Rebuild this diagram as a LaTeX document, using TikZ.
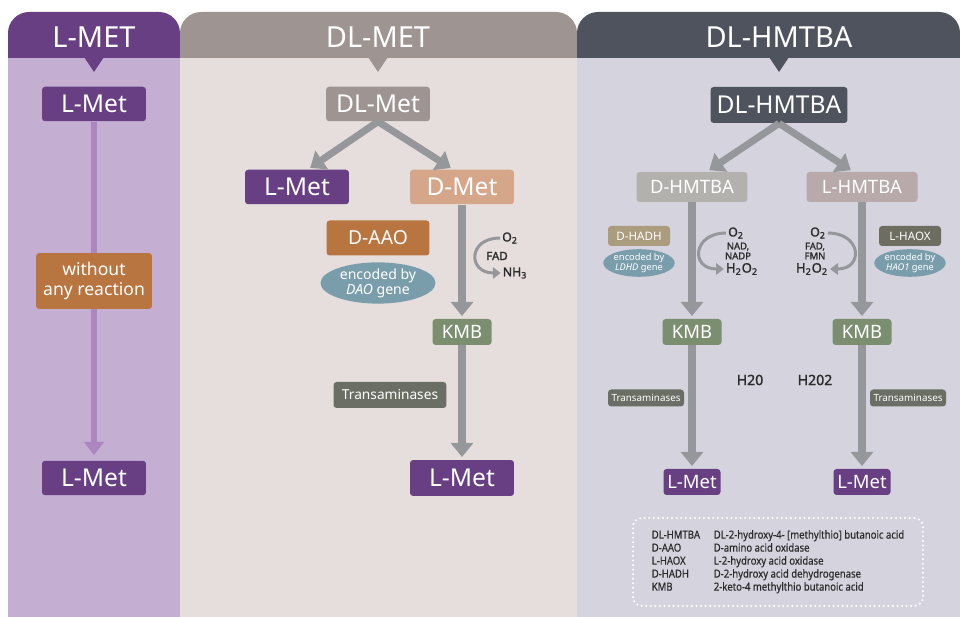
\documentclass[tikz,border=0pt]{standalone}
\usepackage{fontspec}
\setmainfont{Noto Sans}
\newfontfamily\legfont[FakeStretch=0.86, FakeBold=0.5]{Noto Sans}
\newfontfamily\chemfont[FakeBold=1.6]{Noto Sans}
\usetikzlibrary{arrows.meta,shapes.geometric}

\definecolor{lmetdark}{HTML}{673F82}
\definecolor{lmetlight}{HTML}{C4AFD3}
\definecolor{dlmetdark}{HTML}{9E9592}
\definecolor{dlmetlight}{HTML}{E6DEDD}
\definecolor{hmtdark}{HTML}{4F535E}
\definecolor{hmtlight}{HTML}{D5D3DE}
\definecolor{rust}{HTML}{B87540}
\definecolor{salmon}{HTML}{D6A68B}
\definecolor{steel}{HTML}{7A9DAC}
\definecolor{kmbgreen}{HTML}{7B8F70}
\definecolor{transgray}{HTML}{6B6E64}
\definecolor{arrowgray}{HTML}{96979B}
\definecolor{lilac}{HTML}{AC86BE}
\definecolor{dhmtgray}{HTML}{B2B1AE}
\definecolor{lhmtgray}{HTML}{B8AAAB}
\definecolor{tan}{HTML}{AC9C7E}
\definecolor{olive}{HTML}{6D6E60}
\definecolor{ink}{HTML}{2B2B2B}

\begin{document}
\begin{tikzpicture}[x=0.02cm, y=-0.02cm,
    box/.style={rounded corners=1.8pt, text=white, inner sep=0pt, align=center},
    bigbox/.style={box, minimum width=2.08cm, minimum height=0.69cm, font=\fontsize{14}{16}\selectfont},
    kmbbox/.style={box, fill=kmbgreen, minimum width=1.18cm, minimum height=0.52cm, font=\fontsize{10.5}{12}\selectfont},
    smallmet/.style={box, fill=lmetdark, minimum width=1.14cm, minimum height=0.52cm, font=\fontsize{10.5}{12}\selectfont},
    tinybox/.style={box, minimum width=1.24cm, minimum height=0.4cm, font=\fontsize{6.6}{8}\selectfont},
    transsmall/.style={box, fill=transgray, minimum width=1.52cm, minimum height=0.34cm, font=\fontsize{5.6}{7}\selectfont},
    gene/.style={ellipse, fill=steel, text=white, inner sep=0pt, align=center},
    header/.style={text=white, font=\fontsize{16.5}{18}\selectfont},
    chem/.style={text=ink, inner sep=1pt, align=center, font=\chemfont\fontsize{7}{8}\selectfont},
    flow/.style={draw=arrowgray, line width=4pt, -{Triangle[width=12.5pt,length=8pt]}, shorten >=1.5pt},
    lflow/.style={draw=lilac, line width=3.4pt, -{Triangle[width=11pt,length=7.5pt]}, shorten >=3pt},
    curv/.style={draw=arrowgray, line width=1.7pt, -{Triangle[width=6.5pt,length=4.5pt]}, looseness=2.4}]

    \useasboundingbox (0,0) rectangle (960,617);

    \fill[lmetlight] (8,58) rectangle (180,617);
    \fill[dlmetlight] (180,58) rectangle (577,617);
    \fill[hmtlight] (577,58) rectangle (960,617);
    \fill[lmetdark, rounded corners=12] (8,12) rectangle (180,58);
    \fill[lmetdark] (8,35) rectangle (180,58);
    \fill[dlmetdark, rounded corners=12] (180,12) rectangle (577,58);
    \fill[dlmetdark] (180,35) rectangle (577,58);
    \fill[hmtdark, rounded corners=12] (577,12) rectangle (960,58);
    \fill[hmtdark] (577,35) rectangle (960,58);
    \fill[lmetdark] (84,57) -- (104,57) -- (94,72) -- cycle;
    \fill[dlmetdark] (368,57) -- (388,57) -- (378,72) -- cycle;
    \fill[hmtdark] (769,57) -- (789,57) -- (779,72) -- cycle;

    \node (h1) at (94, 37) [header] {L-MET};
    \node (h2) at (378, 37) [header] {DL-MET};
    \node (h3) at (779, 37) [header] {DL-HMTBA};

    \node (lmeta) at (94, 104) [bigbox, fill=lmetdark] {L-Met};
    \node (lmetz) at (94, 478) [bigbox, fill=lmetdark] {L-Met};
    \draw[lflow] (lmeta) -- (lmetz);
    \node (noreact) at (94, 281) [box, fill=rust, minimum width=2.32cm, minimum height=1.12cm, font=\fontsize{10}{11.5}\selectfont] {without\\any reaction};

    \node (dlmet) at (378, 104) [bigbox, fill=dlmetdark] {DL-Met};
    \node (lmetb) at (297, 187) [bigbox, fill=lmetdark] {L-Met};
    \node (dmet) at (462, 187) [bigbox, fill=salmon] {D-Met};
    \node (daao) at (378, 238) [box, fill=rust, minimum width=2.06cm, minimum height=0.7cm, font=\fontsize{11}{13}\selectfont] {D-AAO};
    \node (daogene) at (378, 283) [gene, minimum width=2.3cm, minimum height=0.8cm, font=\fontsize{8}{8.6}\selectfont] {encoded by\\\textit{DAO} gene};
    \node (o2a) at (510, 238) [chem] {O\textsubscript{2}};
    \node (fada) at (497, 256) [chem, font=\chemfont\fontsize{6.5}{7}\selectfont] {FAD};
    \node (nh3a) at (515, 273) [chem] {NH\textsubscript{3}};
    \node (kmba) at (462, 332) [kmbbox] {KMB};
    \node (transa) at (390, 395) [box, fill=transgray, minimum width=2.26cm, minimum height=0.52cm, font=\fontsize{7.8}{9}\selectfont] {Transaminases};
    \node (lmetc) at (462, 478) [bigbox, fill=lmetdark, minimum height=0.72cm] {L-Met};

    \draw[flow] (dlmet.south) -- ([xshift=0.22cm]lmetb.north);
    \draw[flow] (dlmet.south) -- ([xshift=-0.18cm]dmet.north);
    \draw[flow] (dmet) -- (kmba);
    \draw[flow] (kmba) -- (lmetc);
    \draw[curv] (o2a.west) to[out=180, in=180] (nh3a.west);

    \node (hmt) at (779, 105) [box, fill=hmtdark, minimum width=2.74cm, minimum height=0.72cm, font=\fontsize{14}{16}\selectfont] {DL-HMTBA};
    \node (dhmt) at (692, 187) [box, fill=dhmtgray, minimum width=2.22cm, minimum height=0.6cm, font=\fontsize{10.5}{12}\selectfont] {D-HMTBA};
    \node (lhmt) at (862, 187) [box, fill=lhmtgray, minimum width=2.22cm, minimum height=0.6cm, font=\fontsize{10.5}{12}\selectfont] {L-HMTBA};

    \node (dhadh) at (639, 236) [tinybox, fill=tan] {D-HADH};
    \node (ldhd) at (639, 263) [gene, minimum width=1.38cm, minimum height=0.48cm, font=\fontsize{5.3}{5.8}\selectfont] {encoded by\\\textit{LDHD} gene};
    \node (o2b) at (736, 233) [chem] {O\textsubscript{2}};
    \node (nadb) at (738, 251) [chem, font=\chemfont\fontsize{5.4}{5.6}\selectfont] {NAD,\\NADP};
    \node (h2o2b) at (742, 269) [chem, font=\chemfont\fontsize{7.4}{8}\selectfont] {H\textsubscript{2}O\textsubscript{2}};
    \node (kmbb) at (692, 332) [kmbbox] {KMB};
    \node (transb) at (646, 398) [transsmall] {Transaminases};
    \node (lmetd) at (692, 482) [smallmet] {L-Met};

    \node (lhaox) at (910, 236) [tinybox, fill=olive] {L-HAOX};
    \node (hao) at (910, 263) [gene, minimum width=1.4cm, minimum height=0.48cm, font=\fontsize{5.3}{5.8}\selectfont] {encoded by\\\textit{HAO1} gene};
    \node (o2c) at (818, 233) [chem] {O\textsubscript{2}};
    \node (fadc) at (815, 251) [chem, font=\chemfont\fontsize{5.4}{5.6}\selectfont] {FAD,\\FMN};
    \node (h2o2c) at (812, 269) [chem, font=\chemfont\fontsize{7.4}{8}\selectfont] {H\textsubscript{2}O\textsubscript{2}};
    \node (kmbc) at (862, 332) [kmbbox] {KMB};
    \node (transc) at (908, 398) [transsmall] {Transaminases};
    \node (lmete) at (862, 482) [smallmet] {L-Met};

    \node (h20) at (750, 380) [chem, font=\chemfont\fontsize{8}{9}\selectfont] {H20};
    \node (h202) at (815, 380) [chem, font=\chemfont\fontsize{8}{9}\selectfont] {H202};

    \draw[flow] (hmt.south) -- ([xshift=0.3cm]dhmt.north);
    \draw[flow] (hmt.south) -- ([xshift=-0.18cm]lhmt.north);
    \draw[flow] (dhmt) -- (kmbb);
    \draw[flow] (kmbb) -- (lmetd);
    \draw[flow] (lhmt) -- (kmbc);
    \draw[flow] (kmbc) -- (lmete);
    \draw[curv] (o2b.west) to[out=180, in=180] (h2o2b.west);
    \draw[curv] (o2c.east) to[out=0, in=0] (h2o2c.east);

    \node (legend) at (778, 562) [draw=white, line width=1.3pt, dash pattern=on 0pt off 2.6pt, line cap=round, rounded corners=5pt, minimum width=5.8cm, minimum height=1.76cm, text=ink, font=\legfont\fontsize{6.3}{7.4}\selectfont] {\begin{tabular}{@{}p{1.24cm}@{}l@{}}
        DL-HMTBA & DL-2-hydroxy-4- [methylthio] butanoic acid\\
        D-AAO & D-amino acid oxidase\\
        L-HAOX & L-2-hydroxy acid oxidase\\
        D-HADH & D-2-hydroxy acid dehydrogenase\\
        KMB & 2-keto-4 methylthio butanoic acid
    \end{tabular}};
\end{tikzpicture}
\end{document}
